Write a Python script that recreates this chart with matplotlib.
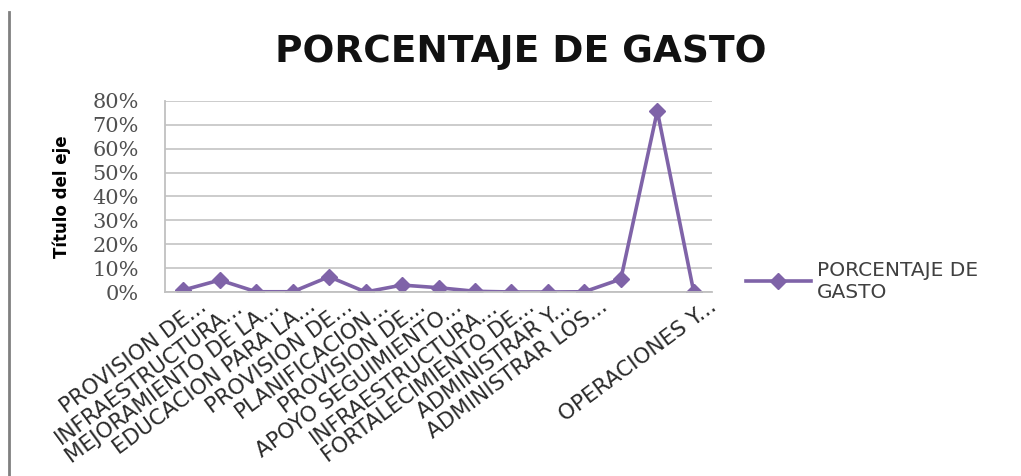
import matplotlib
matplotlib.use("Agg")
import matplotlib.pyplot as plt
from matplotlib.lines import Line2D
from matplotlib.ticker import PercentFormatter, MultipleLocator
from matplotlib.transforms import ScaledTranslation

categories = ["PROVISION DE...", "INFRAESTRUCTURA...", "MEJORAMIENTO DE LA...",
              "EDUCACION PARA LA...", "PROVISION DE...", "PLANIFICACION...",
              "PROVISION DE...", "APOYO SEGUIMIENTO...", "INFRAESTRUCTURA...",
              "FORTALECIMIENTO DE...", "ADMINISTRAR Y...", "ADMINISTRAR LOS...",
              "", "", "OPERACIONES Y..."]
values = [0.8, 5.0, 0.1, 0.1, 6.4, 0.0, 2.9, 1.8, 0.3, 0.0, 0.0, 0.1, 5.4, 75.8, 0.0]
series_name = "PORCENTAJE DE GASTO"
title = "PORCENTAJE DE GASTO"
ylabel = "Título del eje"

purple = "#7F63A8"
fig = plt.figure(figsize=(10.21, 4.76), dpi=100)
ax = fig.add_axes([165/1021, 1-292/476, (712-165)/1021, (292-101)/476])

x = list(range(len(values)))
line, = ax.plot(x, values, color=purple, lw=2.6, marker="D", ms=8.5, mfc=purple, mec=purple)

ax.set_xlim(-0.5, len(values)-0.5)
ax.set_ylim(0, 80)
ax.yaxis.set_major_locator(MultipleLocator(10))
ax.yaxis.set_major_formatter(PercentFormatter(decimals=0))
ax.grid(axis="y", color="#c8c8c8", lw=1.3)
ax.set_axisbelow(True)
for s in ["top", "right"]:
    ax.spines[s].set_visible(False)
ax.spines["left"].set_color("#c0c0c0")
ax.spines["left"].set_linewidth(1.3)
ax.spines["bottom"].set_color("#c0c0c0")
ax.spines["bottom"].set_linewidth(1.3)
ax.tick_params(axis="both", length=0)
ax.tick_params(axis="y", pad=19)
ax.tick_params(axis="x", pad=5)

ax.set_xticks(x)
ax.set_xticklabels(categories, rotation=36.5, ha="right", rotation_mode="anchor",
                   fontsize=15.5, color="#2a2a2a", family="DejaVu Sans")
shift = ScaledTranslation(15/100, 3/100, fig.dpi_scale_trans)
for lbl in ax.get_xticklabels():
    lbl.set_transform(lbl.get_transform() + shift)
for lbl in ax.get_yticklabels():
    lbl.set_fontsize(15)
    lbl.set_color("#505050")
    lbl.set_family("DejaVu Serif")

ax.set_ylabel(ylabel, fontsize=12, fontweight="bold", color="#000000",
              family="DejaVu Sans")
ax.yaxis.set_label_coords((71-165)/547, 0.5)

fig.text(521/1021, 1-52/476, title, ha="center", va="center", fontsize=27,
         fontweight="bold", family="DejaVu Sans", color="#111111")

leg = fig.legend([line], ["PORCENTAJE DE\nGASTO"], loc="center left",
                 bbox_to_anchor=(728/1021, 1-281/476), frameon=False,
                 handlelength=3.2, markerscale=0.9, handletextpad=0.3,
                 prop={"family": "DejaVu Sans", "size": 14.5})
for t in leg.get_texts():
    t.set_color("#404040")

fig.add_artist(Line2D([9/1021, 9/1021], [1-12/476, 0], color="#808080", lw=2))

fig.savefig("out.png", dpi=100)
